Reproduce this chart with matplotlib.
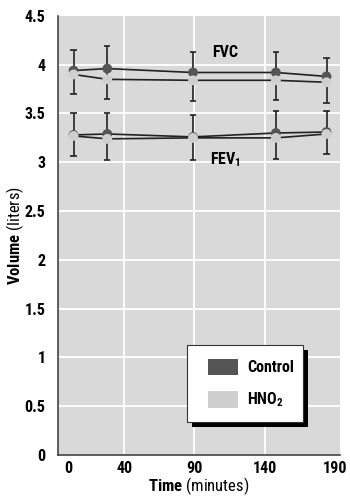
import matplotlib
matplotlib.use('Agg')
import matplotlib.pyplot as plt
import matplotlib.font_manager as fm
from matplotlib.patches import Rectangle

# 选一个窄体字体，找不到就退回
_available = {f.name for f in fm.fontManager.ttflist}
_candidates = ['Liberation Sans Narrow', 'Roboto Condensed', 'Open Sans Condensed',
               'Liberation Sans', 'DejaVu Sans']
_font = [f for f in _candidates if f in _available][0]
plt.rcParams['font.family'] = [_font, 'DejaVu Sans']
plt.rcParams['mathtext.fontset'] = 'custom'
plt.rcParams['mathtext.rm'] = _font
plt.rcParams['mathtext.bf'] = _font + ':bold'

# 数据
time = [4, 28, 89, 148, 184]
fvc_control = [3.94, 3.96, 3.92, 3.92, 3.88]
fvc_hno2 = [3.90, 3.85, 3.84, 3.84, 3.82]
fev_control = [3.28, 3.29, 3.26, 3.30, 3.31]
fev_hno2 = [3.27, 3.24, 3.25, 3.25, 3.29]
fvc_err_hi = [4.15, 4.19, 4.13, 4.13, 4.07]
fvc_err_lo = [3.70, 3.65, 3.63, 3.64, 3.61]
fev_err_hi = [3.51, 3.51, 3.48, 3.53, 3.53]
fev_err_lo = [3.06, 3.02, 3.02, 3.03, 3.08]
xticks = [0, 40, 90, 140, 190]
yticks = [0, 0.5, 1, 1.5, 2, 2.5, 3, 3.5, 4, 4.5]
ytick_labels = ['0', '0.5', '1', '1.5', '2', '2.5', '3', '3.5', '4', '4.5']

dark = '#555555'
light = '#cfcfcf'
fs = 11.5 if 'Narrow' in _font or 'Condensed' in _font else 9.5

fig = plt.figure(figsize=(3.5, 4.97), dpi=100)
ax = fig.add_axes([0.166, 0.0845, 0.805, 0.8835])
ax.set_facecolor('#d9d9d9')
ax.set_xlim(-7, 193.5)
ax.set_ylim(0, 4.5)

for g in yticks[1:-1]:
    ax.axhline(g, color='white', lw=1.3, zorder=1)
for g in xticks[1:-1]:
    ax.axvline(g, color='white', lw=1.3, zorder=1)

# 误差线
for hi, lo in [(fvc_err_hi, fvc_err_lo), (fev_err_hi, fev_err_lo)]:
    ax.vlines(time, lo, hi, color='#222222', lw=1.2, zorder=2)
    ax.hlines(hi, [t - 2.2 for t in time], [t + 2.2 for t in time], color='#222222', lw=1.2, zorder=2)
    ax.hlines(lo, [t - 2.2 for t in time], [t + 2.2 for t in time], color='#222222', lw=1.2, zorder=2)

for ys, c in [(fvc_control, dark), (fvc_hno2, light), (fev_control, dark), (fev_hno2, light)]:
    ax.plot(time, ys, color='#222222', lw=1.2, zorder=3)
    ax.scatter(time, ys, s=50, color=c, edgecolors='none', zorder=4)

ax.text(112, 4.12, 'FVC', fontsize=fs, fontweight='bold', ha='center', va='center')
ax.text(112, 3.03, r'FEV$_\mathbf{1}$', fontsize=fs, fontweight='bold', ha='center', va='center')

ax.set_xticks(xticks)
ax.set_xticklabels([str(t) for t in xticks], fontsize=fs, fontweight='bold')
ax.set_yticks(yticks)
ax.set_yticklabels(ytick_labels, fontsize=fs, fontweight='bold')
ax.tick_params(axis='y', length=0, pad=9)
ax.tick_params(axis='x', length=0, pad=4)
for s in ['top', 'right']:
    ax.spines[s].set_visible(False)
for s in ['left', 'bottom']:
    ax.spines[s].set_color('#444444')
    ax.spines[s].set_linewidth(1.2)

ax.set_xlabel(r'$\mathbf{Time}$ (minutes)', fontsize=fs + 0.5)
ax.set_ylabel(r'$\mathbf{Volume}$ (liters)', fontsize=fs + 0.5)
ax.xaxis.set_label_coords(0.5, -0.047)
ax.yaxis.set_label_coords(-0.115, 0.5)

# 图例（带阴影的方框）
bx, by, bw, bh = 0.457, 0.075, 0.411, 0.175
ax.add_patch(Rectangle((bx + 0.018, by - 0.011), bw, bh, transform=ax.transAxes,
                       facecolor='black', edgecolor='none', zorder=5))
ax.add_patch(Rectangle((bx, by), bw, bh, transform=ax.transAxes,
                       facecolor='white', edgecolor='#333333', lw=0.8, zorder=6))
ax.add_patch(Rectangle((0.532, 0.182), 0.106, 0.036, transform=ax.transAxes,
                       facecolor=dark, edgecolor='none', zorder=7))
ax.add_patch(Rectangle((0.532, 0.108), 0.106, 0.038, transform=ax.transAxes,
                       facecolor=light, edgecolor='none', zorder=7))
ax.text(0.67, 0.200, 'Control', transform=ax.transAxes, fontsize=fs,
        fontweight='bold', va='center', zorder=8)
ax.text(0.67, 0.127, r'HNO$_\mathbf{2}$', transform=ax.transAxes, fontsize=fs,
        fontweight='bold', va='center', zorder=8)

fig.savefig('out.png', dpi=100)
